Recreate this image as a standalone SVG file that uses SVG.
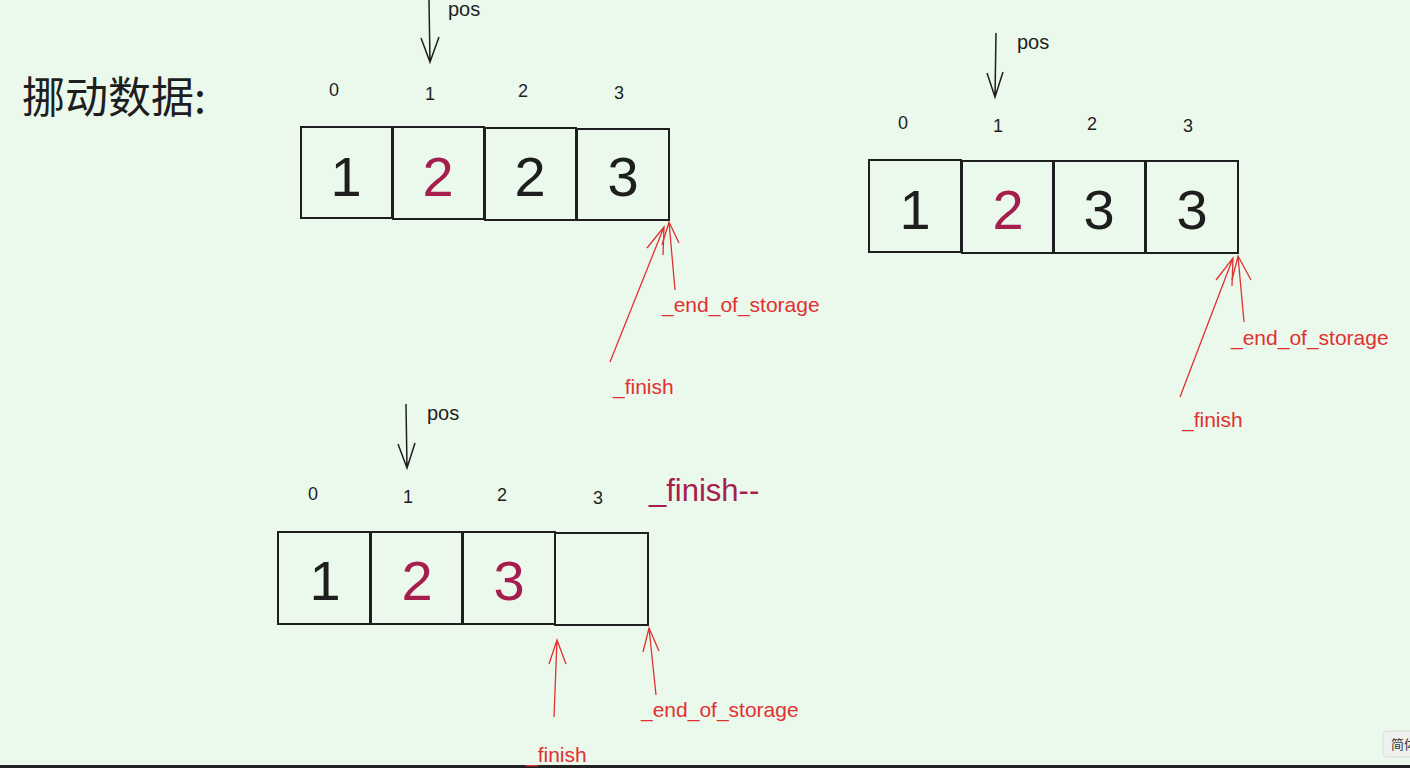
<svg xmlns="http://www.w3.org/2000/svg" width="1410" height="768" viewBox="0 0 1410 768">
<style>
.cell{fill:none;stroke:#1e1e1e;stroke-width:2}
.big{font-family:"Liberation Sans",Arial,sans-serif;font-size:56px;text-anchor:middle}
.k{fill:#1e1e1e}.m{fill:#a61e4d}
.idx{font-family:"Liberation Sans",Arial,sans-serif;font-size:18px;fill:#1e1e1e;text-anchor:middle}
.lbl{font-family:"Liberation Sans",Arial,sans-serif;font-size:20px;fill:#1e1e1e}
.red{font-family:"Liberation Sans",Arial,sans-serif;font-size:21px;fill:#e03131}
.ar{fill:none;stroke:#1e1e1e;stroke-width:1.5}
.rr{fill:none;stroke:#e03131;stroke-width:1.3}
</style>
<rect width="1410" height="768" fill="#ebf9ec"/>
<line x1="0" y1="766.5" x2="1410" y2="766.5" stroke="#222" stroke-width="3"/>
<text x="22" y="113" font-family="'Noto Sans CJK SC',sans-serif" font-size="43" fill="#1e1e1e">挪动数据:</text>

<g id="array1">
<rect class="cell" x="301" y="127" width="91" height="91"/>
<rect class="cell" x="393" y="127" width="91" height="92"/>
<rect class="cell" x="485" y="128" width="91" height="92"/>
<rect class="cell" x="577" y="129" width="92" height="91"/>
<text class="big k" x="346" y="196">1</text><text class="big m" x="438" y="196">2</text>
<text class="big k" x="530" y="196">2</text><text class="big k" x="623" y="196">3</text>
<text class="idx" x="334" y="96">0</text><text class="idx" x="430" y="100">1</text>
<text class="idx" x="523" y="97">2</text><text class="idx" x="619" y="99">3</text>
<text class="lbl" x="448" y="16">pos</text>
<text class="red" x="662" y="312">_end_of_storage</text>
<text class="red" x="613" y="394">_finish</text>
</g>

<g id="array2">
<rect class="cell" x="869" y="160" width="92" height="92"/>
<rect class="cell" x="962" y="161" width="91" height="92"/>
<rect class="cell" x="1054" y="161" width="91" height="92"/>
<rect class="cell" x="1146" y="161" width="92" height="92"/>
<text class="big k" x="915" y="229">1</text><text class="big m" x="1008" y="229">2</text>
<text class="big k" x="1099" y="229">3</text><text class="big k" x="1192" y="229">3</text>
<text class="idx" x="903" y="129">0</text><text class="idx" x="998" y="132">1</text>
<text class="idx" x="1092" y="130">2</text><text class="idx" x="1188" y="132">3</text>
<text class="lbl" x="1017" y="49">pos</text>
<text class="red" x="1231" y="345">_end_of_storage</text>
<text class="red" x="1182" y="427">_finish</text>
</g>

<g id="array3">
<rect class="cell" x="278" y="532" width="92" height="92"/>
<rect class="cell" x="371" y="532" width="91" height="92"/>
<rect class="cell" x="463" y="532" width="92" height="92"/>
<rect class="cell" x="555" y="533" width="93" height="92"/>
<text class="big k" x="325" y="600">1</text><text class="big m" x="417" y="600">2</text>
<text class="big m" x="509" y="600">3</text>
<text class="idx" x="313" y="500">0</text><text class="idx" x="408" y="503">1</text>
<text class="idx" x="502" y="501">2</text><text class="idx" x="598" y="504">3</text>
<text class="lbl" x="427" y="420">pos</text>
<text x="649" y="501" font-family="'Liberation Sans',Arial,sans-serif" font-size="31" fill="#a61e4d">_finish--</text>
<text class="red" x="641" y="717">_end_of_storage</text>
<text class="red" x="526" y="762">_finish</text>
</g>

<g id="connectors">
<path class="ar" d="M429 0 L430 62 M421 38 L430 62 L439 37"/>
<path class="ar" d="M996 33 L995 97 M987 73 L995 97 L1003 72"/>
<path class="ar" d="M406 404 L407 468 M398 444 L407 468 L415 443"/>
<path class="rr" d="M610 362 L664 227 M647 248 L664 227 L663 255"/>
<path class="rr" d="M675 290 L669 222 M662 245 L669 222 L679 243"/>
<path class="rr" d="M1180 397 L1233 258 M1216 280 L1233 258 L1232 286"/>
<path class="rr" d="M1244 322 L1238 256 M1232 280 L1238 256 L1251 280"/>
<path class="rr" d="M554 717 L557 640 M549 664 L557 640 L566 664"/>
<path class="rr" d="M656 695 L649 628 M643 652 L649 628 L659 651"/>
</g>
<rect x="1383" y="731" width="40" height="26" rx="4" fill="#eef1ee" stroke="#d8dcd8"/>
<text x="1391" y="749" font-family="'Noto Sans CJK SC',sans-serif" font-size="13" fill="#333">简体</text>
</svg>
